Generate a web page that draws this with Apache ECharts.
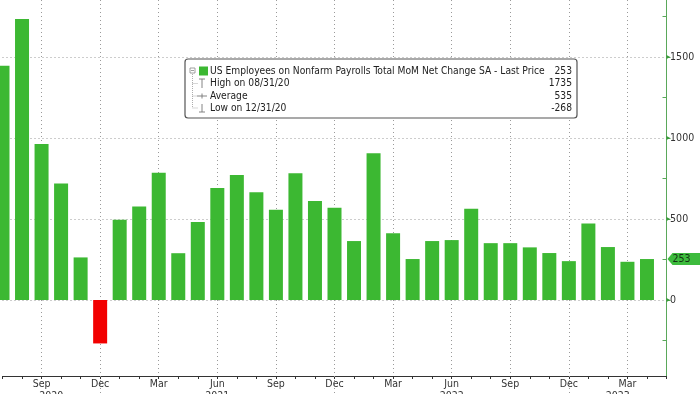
<!DOCTYPE html>
<html>
<head>
<meta charset="utf-8">
<script src="https://cdn.jsdelivr.net/npm/echarts@6/dist/echarts.min.js"></script>
<style>
  html, body { margin: 0; padding: 0; background: #ffffff; }
  #c { width: 700px; height: 394px; }
</style>
</head>
<body>
<div id="c"></div>
<script>
// ---- data ----
const months = [
  '2020-07','2020-08','2020-09','2020-10','2020-11','2020-12',
  '2021-01','2021-02','2021-03','2021-04','2021-05','2021-06',
  '2021-07','2021-08','2021-09','2021-10','2021-11','2021-12',
  '2022-01','2022-02','2022-03','2022-04','2022-05','2022-06',
  '2022-07','2022-08','2022-09','2022-10','2022-11','2022-12',
  '2023-01','2023-02','2023-03','2023-04'
];
const payrolls = [
  1446, 1735, 963, 720, 263, -268,
  496, 578, 785, 289, 482, 691,
  772, 666, 557, 782, 612, 569,
  364, 906, 412, 253, 364, 370,
  564, 351, 351, 325, 290, 240,
  473, 327, 236, 253
];
const yTicks = [0, 500, 1000, 1500];
const yMinorTicks = [-250, 250, 750, 1250, 1750];
const yearLabels = ['2020', '2021', '2022', '2023'];
const monthAbbr = { '03': 'Mar', '06': 'Jun', '09': 'Sep', '12': 'Dec' };
const legendLabels = [
  'US Employees on Nonfarm Payrolls Total MoM Net Change SA - Last Price',
  'High on 08/31/20',
  'Average',
  'Low on 12/31/20'
];
const legendValues = ['253', '1735', '535', '-268'];

// ---- layout / style ----
const FONT = "'DejaVu Sans Condensed', 'DejaVu Sans', sans-serif";
const GREEN = '#3cb832';
const RED = '#f20000';
const AXIS_GREEN = '#5aa85a';
const GRID_GREY = '#9a9a9a';
const Y_MIN = -469, Y_MAX = 1852;

const axisCats = months.concat(['']);           // one trailing slot up to the value axis
const nSlots = axisCats.length - 1;
const isQuarter = v => v !== '' && monthAbbr[v.slice(5)] !== undefined;
const decIdx = months.map((m, i) => (m.slice(5) === '12' ? i : -1)).filter(i => i >= 0);
const bounds = [0].concat(decIdx, [nSlots]);
const yearPos = bounds.slice(0, -1).map((b, k) => (b + bounds[k + 1]) / 2);

const chart = echarts.init(document.getElementById('c'), null, { renderer: 'canvas' });

const option = {
  animation: false,
  backgroundColor: '#ffffff',
  grid: { left: 2.5, right: 33.5, top: 0, bottom: 18, containLabel: false, outerBoundsMode: 'none' },
  xAxis: [
    {
      type: 'category',
      data: axisCats,
      boundaryGap: false,
      axisLine: { show: true, onZero: false, lineStyle: { color: '#333', width: 1 } },
      axisTick: { show: true, interval: 0, length: 3, lineStyle: { color: '#333' } },
      axisLabel: {
        interval: (i, v) => isQuarter(v),
        formatter: v => (v ? (monthAbbr[v.slice(5)] || '') : ''),
        margin: 3, fontSize: 10.5, color: '#333', fontFamily: FONT
      },
      splitLine: {
        show: true,
        interval: (i, v) => isQuarter(v),
        lineStyle: { color: GRID_GREY, type: [1, 3], width: 1 }
      }
    },
    {
      type: 'value',
      min: 0, max: nSlots,
      position: 'bottom',
      axisLine: { show: false, onZero: false },
      splitLine: { show: false },
      axisTick: { show: true, customValues: decIdx, length: 18, lineStyle: { color: GRID_GREY, type: [1, 3] } },
      axisLabel: {
        customValues: yearPos,
        formatter: v => yearLabels[yearPos.indexOf(v)] || '',
        margin: 15, fontSize: 10.5, color: '#333', fontFamily: FONT
      }
    }
  ],
  yAxis: [
    {
      type: 'value',
      position: 'right',
      min: Y_MIN, max: Y_MAX,
      axisLine: { show: true, onZero: false, lineStyle: { color: AXIS_GREEN, width: 1 } },
      axisTick: { show: true, customValues: yTicks, length: 4, lineStyle: { color: AXIS_GREEN } },
      axisLabel: {
        customValues: yTicks,
        margin: 0,
        formatter: v => '{a|▸}{b|' + v + '}',
        rich: {
          a: { color: '#3a9a3a', fontSize: 8, fontFamily: FONT },
          b: { color: '#333', fontSize: 10.5, fontFamily: FONT }
        }
      },
      splitLine: { show: false }
    },
    {
      type: 'value',
      position: 'right',
      min: Y_MIN, max: Y_MAX,
      axisLine: { show: false, onZero: false },
      axisTick: { show: true, customValues: yMinorTicks, inside: true, length: 4, lineStyle: { color: AXIS_GREEN } },
      axisLabel: { show: false },
      splitLine: { show: false }
    }
  ],
  series: [
    {
      type: 'bar',
      data: payrolls,
      barWidth: 14,
      clip: false,
      z: 3,
      itemStyle: { color: p => (p.value < 0 ? RED : GREEN) },
      markLine: {
        silent: true,
        z: 1,
        symbol: ['none', 'none'],
        label: { show: false },
        lineStyle: { color: GRID_GREY, type: [1, 3], width: 1 },
        data: yTicks.map(v => ({ yAxis: v }))
      }
    }
  ]
};
chart.setOption(option);

// ---- legend box + last-price tag ----
const lx = 185, ly = 59, lw = 392, lh = 59;
const rowY = [71, 83.5, 96, 108];
const LFONT = '10.2px ' + FONT;
const legendEls = [
  { type: 'rect', z: 100, shape: { x: lx, y: ly, width: lw, height: lh, r: 3 },
    style: { fill: '#fff', stroke: '#555', lineWidth: 1.2 } },
  // tree decoration
  { type: 'rect', z: 101, shape: { x: 190, y: 68, width: 5, height: 5 }, style: { fill: '#fff', stroke: '#888', lineWidth: 0.8 } },
  { type: 'line', z: 101, shape: { x1: 191, y1: 70.5, x2: 194, y2: 70.5 }, style: { stroke: '#888', lineWidth: 0.8 } },
  { type: 'line', z: 101, shape: { x1: 192.5, y1: 74, x2: 192.5, y2: 108 }, style: { stroke: '#999', lineWidth: 0.8, lineDash: [1, 1] } },
  { type: 'line', z: 101, shape: { x1: 192.5, y1: 83.5, x2: 198, y2: 83.5 }, style: { stroke: '#999', lineWidth: 0.8, lineDash: [1, 1] } },
  { type: 'line', z: 101, shape: { x1: 192.5, y1: 96, x2: 197, y2: 96 }, style: { stroke: '#999', lineWidth: 0.8, lineDash: [1, 1] } },
  { type: 'line', z: 101, shape: { x1: 192.5, y1: 108, x2: 198, y2: 108 }, style: { stroke: '#999', lineWidth: 0.8, lineDash: [1, 1] } },
  // high symbol
  { type: 'line', z: 101, shape: { x1: 199, y1: 79, x2: 205, y2: 79 }, style: { stroke: '#777', lineWidth: 0.9 } },
  { type: 'line', z: 101, shape: { x1: 202, y1: 79, x2: 202, y2: 88 }, style: { stroke: '#777', lineWidth: 0.9 } },
  // average symbol
  { type: 'line', z: 101, shape: { x1: 197, y1: 96, x2: 207, y2: 96 }, style: { stroke: '#777', lineWidth: 0.9 } },
  { type: 'line', z: 101, shape: { x1: 202, y1: 93.5, x2: 202, y2: 98.5 }, style: { stroke: '#777', lineWidth: 0.9 } },
  // low symbol
  { type: 'line', z: 101, shape: { x1: 202, y1: 104, x2: 202, y2: 112 }, style: { stroke: '#777', lineWidth: 0.9 } },
  { type: 'line', z: 101, shape: { x1: 199, y1: 112, x2: 205, y2: 112 }, style: { stroke: '#777', lineWidth: 0.9 } },
  // series swatch
  { type: 'rect', z: 101, shape: { x: 199, y: 66.5, width: 9, height: 9 }, style: { fill: GREEN } }
];
legendLabels.forEach((t, i) => {
  legendEls.push({ type: 'text', z: 101, x: 210, y: rowY[i],
    style: { text: t, fill: '#222', font: LFONT, verticalAlign: 'middle', align: 'left' } });
  legendEls.push({ type: 'text', z: 101, x: 572, y: rowY[i],
    style: { text: legendValues[i], fill: '#222', font: LFONT, verticalAlign: 'middle', align: 'right' } });
});

const last = payrolls[payrolls.length - 1];
const py = chart.convertToPixel({ yAxisIndex: 0 }, last);
const px = chart.convertToPixel({ xAxisIndex: 1 }, nSlots);
legendEls.push({ type: 'polygon', z: 100,
  shape: { points: [[px + 1, py], [px + 6, py - 6], [700, py - 6], [700, py + 6], [px + 6, py + 6]] },
  style: { fill: '#3dbb3d' } });
legendEls.push({ type: 'text', z: 101, x: px + 6, y: py,
  style: { text: String(last), fill: '#143214', font: '10.5px ' + FONT, verticalAlign: 'middle', align: 'left' } });

chart.setOption({ graphic: { elements: legendEls } });
</script>
</body>
</html>
